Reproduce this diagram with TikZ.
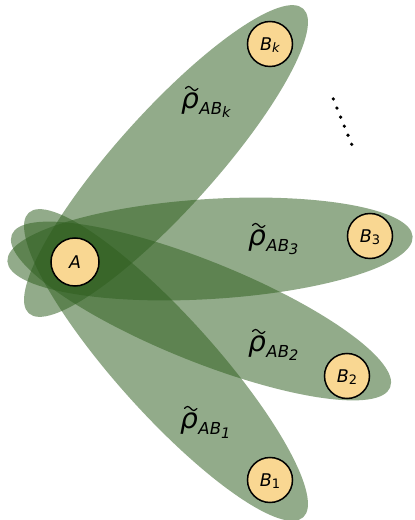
\documentclass[tikz,border=0pt]{standalone}
\usepackage{fontspec}
\setmainfont{DejaVu Sans}
\usetikzlibrary{calc}
\definecolor{leaf}{RGB}{46,94,30}
\definecolor{sand}{RGB}{249,215,146}
\newcommand\rlab[1]{{\fontsize{28}{28}\selectfont\itshape ρ}\kern0.5pt\raisebox{-5.5pt}{\fontsize{16.5}{16.5}\selectfont\itshape AB\raisebox{-3.5pt}{\fontsize{14.5}{14.5}\selectfont #1}}}
\newcommand\blab[1]{{\itshape B}\raisebox{-2pt}{\fontsize{13}{13}\selectfont #1}}
\newcommand\tildeover[1]{\draw[tildestroke] ([shift={(4.5,20.5)}]#1.base west) sin ++(3.1,2) cos ++(3.1,-2) sin ++(3.1,-2) cos ++(3.1,2);}
\tikzset{
  lobe/.style={fill=leaf, fill opacity=0.52},
  party/.style={circle, draw=black, line width=1.5pt, fill=sand, inner sep=0pt,
    minimum size=45pt, text height=12.6pt, text depth=0pt,
    font=\fontsize{17.5}{17.5}\selectfont},
  rholab/.style={anchor=base west, inner sep=0pt},
  tildestroke/.style={line width=1.2pt, line cap=round, black},
  dotmark/.style={fill=black}
}
\begin{document}
\begin{tikzpicture}[x=1pt,y=1pt]
\useasboundingbox (0,0) rectangle (415,520);
% lobes
\fill[lobe, rotate around={48:(166,359)}] (166,359) ellipse [x radius=205pt, y radius=49pt];
\fill[lobe, rotate around={3.5:(210,271)}] (210,271) ellipse [x radius=203pt, y radius=50pt];
\fill[lobe, rotate around={-22:(201,209)}] (201,209) ellipse [x radius=204pt, y radius=50pt];
\fill[lobe, rotate around={-48:(166,155)}] (166,155) ellipse [x radius=205pt, y radius=49pt];
% parties
\node[party, minimum size=48pt] (A) at (75,258) {\itshape A};
\node[party] (Bk) at (270,476) {\blab{\itshape k}};
\node[party] (B3) at (370,284) {\blab{3}};
\node[party] (B2) at (347,144) {\blab{2}};
\node[party] (B1) at (270,40) {\blab{1}};
% labels
\node[rholab] (lk) at (181,411) {\rlab{\itshape k}};
\node[rholab] (l3) at (248,274) {\rlab{3}};
\node[rholab] (l2) at (248,168) {\rlab{2}};
\node[rholab] (l1) at (180,91) {\rlab{1}};
\tildeover{lk}
\tildeover{l3}
\tildeover{l2}
\tildeover{l1}
% dots
\coordinate (d1) at (333.3,421);
\coordinate (d2) at (351.7,375.7);
\foreach \i in {0,...,5} \fill[dotmark] ($(d1)!\i/5!(d2)$) circle (1.8pt);
\end{tikzpicture}
\end{document}
